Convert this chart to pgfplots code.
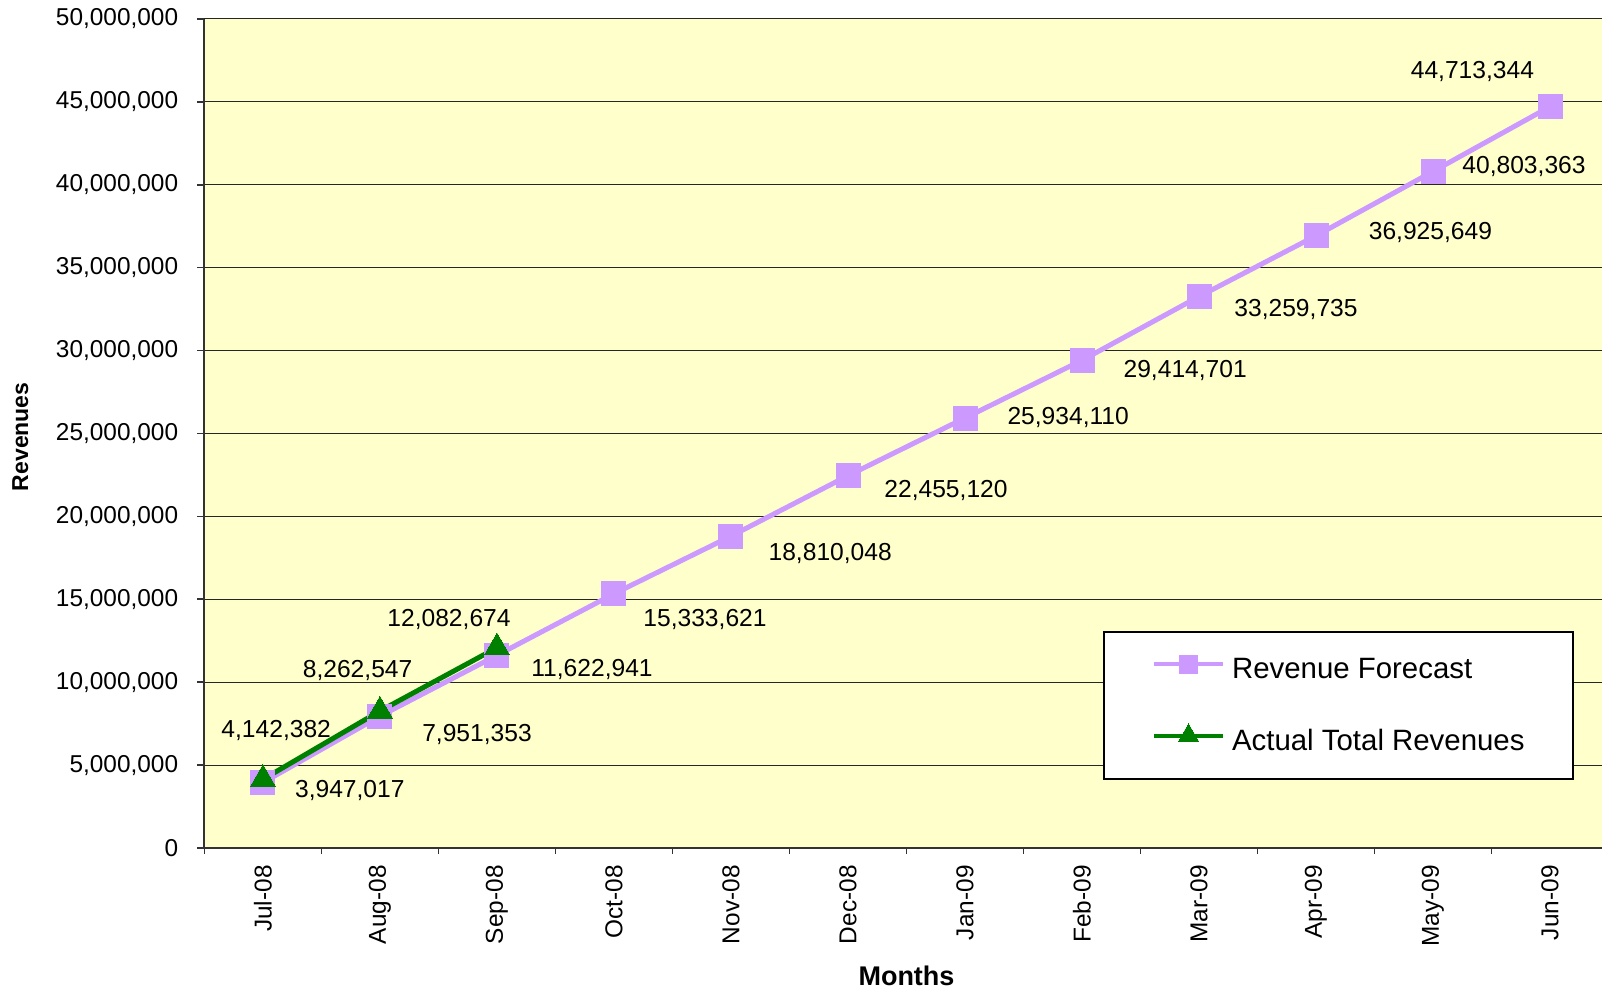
\documentclass[border=0pt]{standalone}
\usepackage{fontspec}
\setmainfont{Liberation Sans}
\usepackage{pgfplots}
\usepackage{pgfplotstable}
\pgfplotsset{compat=1.18}

\definecolor{bgyellow}{HTML}{FFFFCC}
\definecolor{fcpurple}{HTML}{CC99FF}
\definecolor{actgreen}{HTML}{008000}

% x = category position, y = revenue, dx/dy = label offset (pt)
\pgfplotstableread{
x    y         dx     dy     lab
0.5  3947017   43.4   -4.1   3,947,017
1.5  7951353   48.5   -9.2   7,951,353
2.5  11622941  47.5   -7.2   11,622,941
3.5  15333621  45.5   -12.8  15,333,621
4.5  18810048  49.6   -8.7   18,810,048
5.5  22455120  49.0   -7.2   22,455,120
6.5  25934110  51.6   0.5    25,934,110
7.5  29414701  51.6   -5.1   29,414,701
8.5  33259735  48.5   -6.6   33,259,735
9.5  36925649  57.2   1.5    36,925,649
10.5 40803363  45.5   2.6    40,803,363
11.5 44713344  -38.8  17.4   44,713,344
}\forecast

\pgfplotstableread{
x    y         dx     dy     lab
0.5  4142382   6.6    24.4   4,142,382
1.5  8262547   -11.2  20.4   8,262,547
2.5  12082674  -24.0  14.3   12,082,674
}\actual

\pgfplotsset{
    datalabels/.style={
        nodes near coords={\pgfplotspointmeta},
        point meta=explicit symbolic,
        visualization depends on={\thisrow{dx} \as \labdx},
        visualization depends on={\thisrow{dy} \as \labdy},
        every node near coord/.append style={anchor=center, text=black,
            xshift=\labdx pt, yshift=\labdy pt,
            font=\fontsize{12.3}{14}\selectfont},
    },
}

\begin{document}
\begin{tikzpicture}
\useasboundingbox (-102.25pt,-71pt) rectangle (698.75pt,424pt);
\begin{axis}[
    scale only axis,
    width=702pt, height=414.5pt,
    xmin=0, xmax=12,
    ymin=0, ymax=50000000,
    clip=false,
    axis background/.style={fill=bgyellow},
    axis x line*=bottom,
    axis y line*=left,
    axis line style={black!80, line width=1pt},
    xtick={0.5,1.5,...,11.5},
    xticklabels={Jul-08,Aug-08,Sep-08,Oct-08,Nov-08,Dec-08,Jan-09,Feb-09,Mar-09,Apr-09,May-09,Jun-09},
    minor xtick={0,1,...,12},
    major x tick style={draw=none},
    minor x tick style={black!80, line width=0.8pt},
    minor tick length=3pt,
    tick align=outside,
    xticklabel style={rotate=90, anchor=east, inner sep=0pt},
    xticklabel shift=5pt,
    ytick={0,5000000,...,50000000},
    scaled y ticks=false,
    y tick style={black!80, line width=0.8pt},
    major tick length=3.5pt,
    yticklabel={\pgfmathprintnumber[fixed,precision=0,1000 sep={,},assume math mode=true]{\tick}},
    yticklabel style={inner sep=0pt},
    yticklabel shift=9.5pt,
    /pgf/number format/assume math mode=true,
    tick label style={font=\fontsize{12.2}{14}\selectfont},
    ymajorgrids,
    major grid style={black!85, line width=0.5pt},
    xlabel={\textbf{Months}},
    ylabel={\textbf{Revenues}},
    every axis x label/.style={at={(axis description cs:0.5,-0.1544)}, anchor=center, font=\fontsize{13.5}{16}\selectfont},
    every axis y label/.style={at={(axis description cs:-0.1311,0.496)}, rotate=90, anchor=center, font=\fontsize{11.5}{14}\selectfont},
    legend style={at={(axis description cs:0.64,0.2613)}, anchor=north west,
        draw=black, line width=1pt, fill=white,
        inner xsep=24pt, inner ysep=11.5pt, row sep=19.5pt,
        font=\fontsize{14.7}{17}\selectfont,
        nodes={inner sep=0pt, text height=10.5pt, text depth=3pt}},
    legend cell align=left,
    legend image code/.code={%
        \draw[mark repeat=2,mark phase=2,#1] plot coordinates {(0pt,3.5pt) (17.25pt,3.5pt) (34.5pt,3.5pt)};},
    /tikz/every odd column/.append style={column sep=3.5pt},
]
\addplot[fcpurple, line width=2.5pt, mark=square*, mark size=6pt,
    mark options={fcpurple, line width=0pt},
    legend image post style={mark size=4.5pt, line width=2pt},
    datalabels]
    table[x=x, y=y, meta=lab] {\forecast};
\addlegendentry{Revenue Forecast}
\addplot[actgreen, line width=2.5pt, mark=triangle*, mark size=7.3pt,
    mark options={actgreen, line width=0pt},
    legend image post style={mark size=6pt, line width=2pt},
    datalabels]
    table[x=x, y=y, meta=lab] {\actual};
\addlegendentry{Actual Total Revenues}
\end{axis}
\end{tikzpicture}
\end{document}
